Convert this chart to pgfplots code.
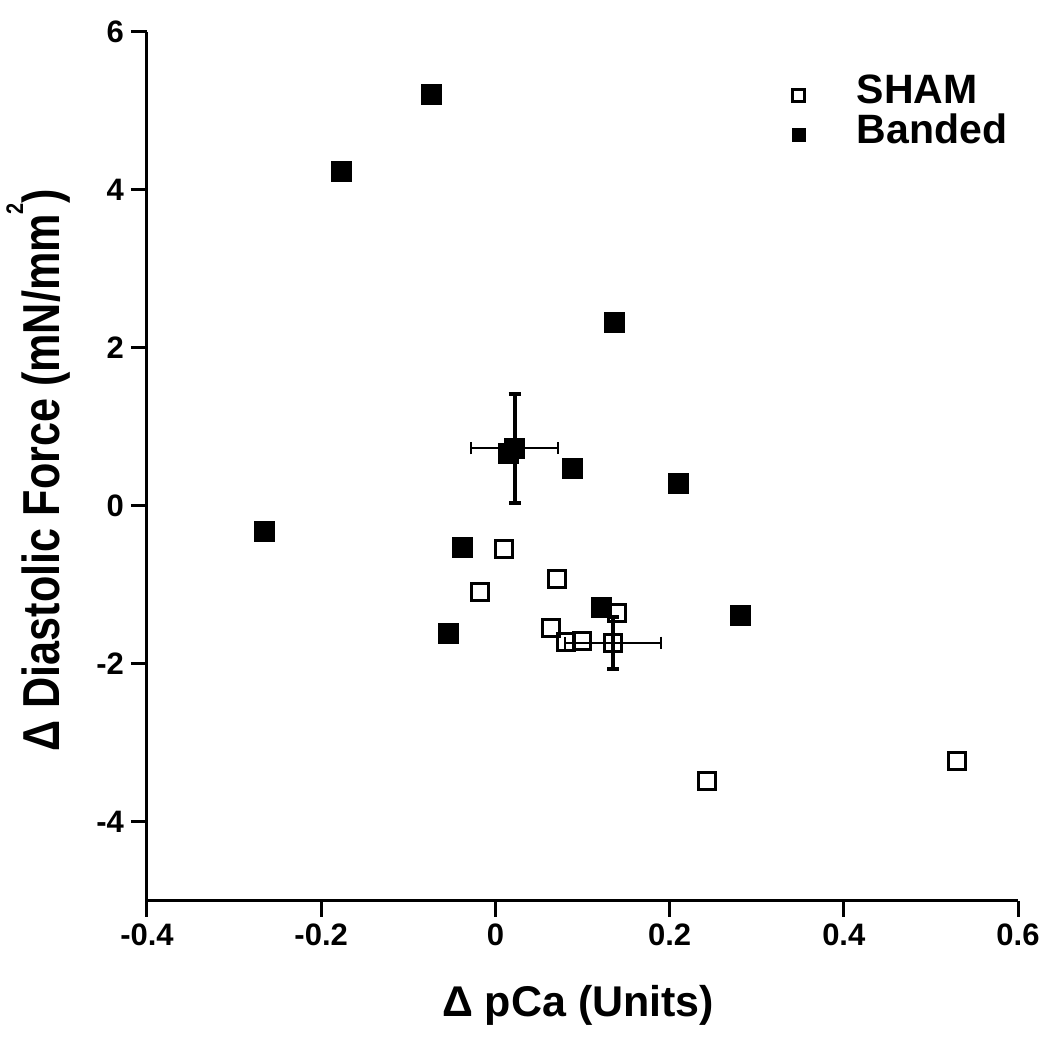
\documentclass[border=0pt]{standalone}
\usepackage{fontspec}
\setmainfont{Liberation Sans}
\usepackage{pgfplots}
\pgfplotsset{compat=1.18}

% individual points
\pgfplotstableread{
x y
0.010 -0.54
-0.018 -1.09
0.071 -0.93
0.064 -1.54
0.081 -1.72
0.099 -1.71
0.140 -1.35
0.243 -3.48
0.530 -3.23
}\sham
\pgfplotstableread{
x y
-0.073 5.21
-0.177 4.24
0.137 2.32
0.015 0.67
0.088 0.47
0.210 0.28
-0.265 -0.32
-0.038 -0.52
-0.054 -1.61
0.122 -1.28
0.281 -1.38
}\banded
% group means with SEM
\pgfplotstableread{
x y ex ey
0.135 -1.73 0.055 0.33
}\shammean
\pgfplotstableread{
x y ex ey
0.022 0.73 0.050 0.69
}\bandedmean

\begin{document}
\begin{tikzpicture}
\useasboundingbox (-73.5pt,-73pt) rectangle (451.5pt,450.5pt);
\begin{axis}[
  scale only axis, width=435.5pt, height=434.5pt,
  xmin=-0.4, xmax=0.6, ymin=-5, ymax=6,
  axis x line*=bottom, axis y line*=left,
  xtick={-0.4,-0.2,0,0.2,0.4,0.6}, ytick={-4,-2,0,2,4,6},
  tick align=outside, major tick length=8pt,
  axis line style={line width=1.5pt},
  tick style={line width=1.5pt, black},
  /pgf/number format/assume math mode=true,
  ticklabel style={font=\bfseries\fontsize{15.5}{16}\selectfont},
  xlabel={Δ pCa (Units)},
  ylabel={\scalebox{0.83}[1]{Δ Diastolic Force (mN/mm\raisebox{18pt}{\fontsize{12}{12}\selectfont 2})}},
  xlabel style={font=\bfseries\fontsize{21.5}{24}\selectfont,
    at={(axis description cs:0.495,-0.12)}, anchor=center},
  ylabel style={font=\bfseries\fontsize{26}{28}\selectfont,
    at={(axis description cs:-0.125,0.496)}, anchor=center},
  legend style={at={(axis description cs:0.741,0.9505)}, anchor=north west, draw=none, fill=none,
    inner sep=0pt, font=\bfseries\fontsize{20.5}{22}\selectfont, row sep=6pt,
    nodes={inner sep=0pt, text height=14pt, text depth=0pt}},
  legend cell align=left,
  legend image code/.code={\path[draw=none, fill=none] (0pt,0pt) -- (29pt,0pt); \draw[mark size=3pt] plot coordinates {(0pt,-3pt)};},
  error bars/error bar style={line width=2pt},
]
\addplot[only marks, mark=square, mark size=4.25pt, line width=1.5pt] table {\sham};
\addlegendentry{SHAM}
\addplot[forget plot, draw=none, mark=none, error bars/.cd, y dir=both, y explicit,
  error mark options={rotate=90, line width=2pt, mark size=3pt}]
  table[x=x, y=y, y error=ey] {\shammean};
\addplot[forget plot, draw=none, mark=none, error bars/.cd, x dir=both, x explicit,
  error bar style={line width=1pt}, error mark options={rotate=90, line width=1pt, mark size=3pt}]
  table[x=x, y=y, x error=ex] {\shammean};
\addplot[forget plot, only marks, mark=square, mark size=4.25pt, line width=1.5pt] table[x=x, y=y] {\shammean};
\addplot[only marks, mark=square*, mark size=4.75pt, line width=1pt, fill=black] table {\banded};
\addlegendentry{Banded}
\addplot[forget plot, draw=none, mark=none, error bars/.cd, y dir=both, y explicit,
  error mark options={rotate=90, line width=2pt, mark size=3pt}]
  table[x=x, y=y, y error=ey] {\bandedmean};
\addplot[forget plot, draw=none, mark=none, error bars/.cd, x dir=both, x explicit,
  error bar style={line width=1pt}, error mark options={rotate=90, line width=1pt, mark size=3pt}]
  table[x=x, y=y, x error=ex] {\bandedmean};
\addplot[forget plot, only marks, mark=square*, mark size=4.75pt, line width=1pt, fill=black] table[x=x, y=y] {\bandedmean};
\end{axis}
\end{tikzpicture}
\end{document}
